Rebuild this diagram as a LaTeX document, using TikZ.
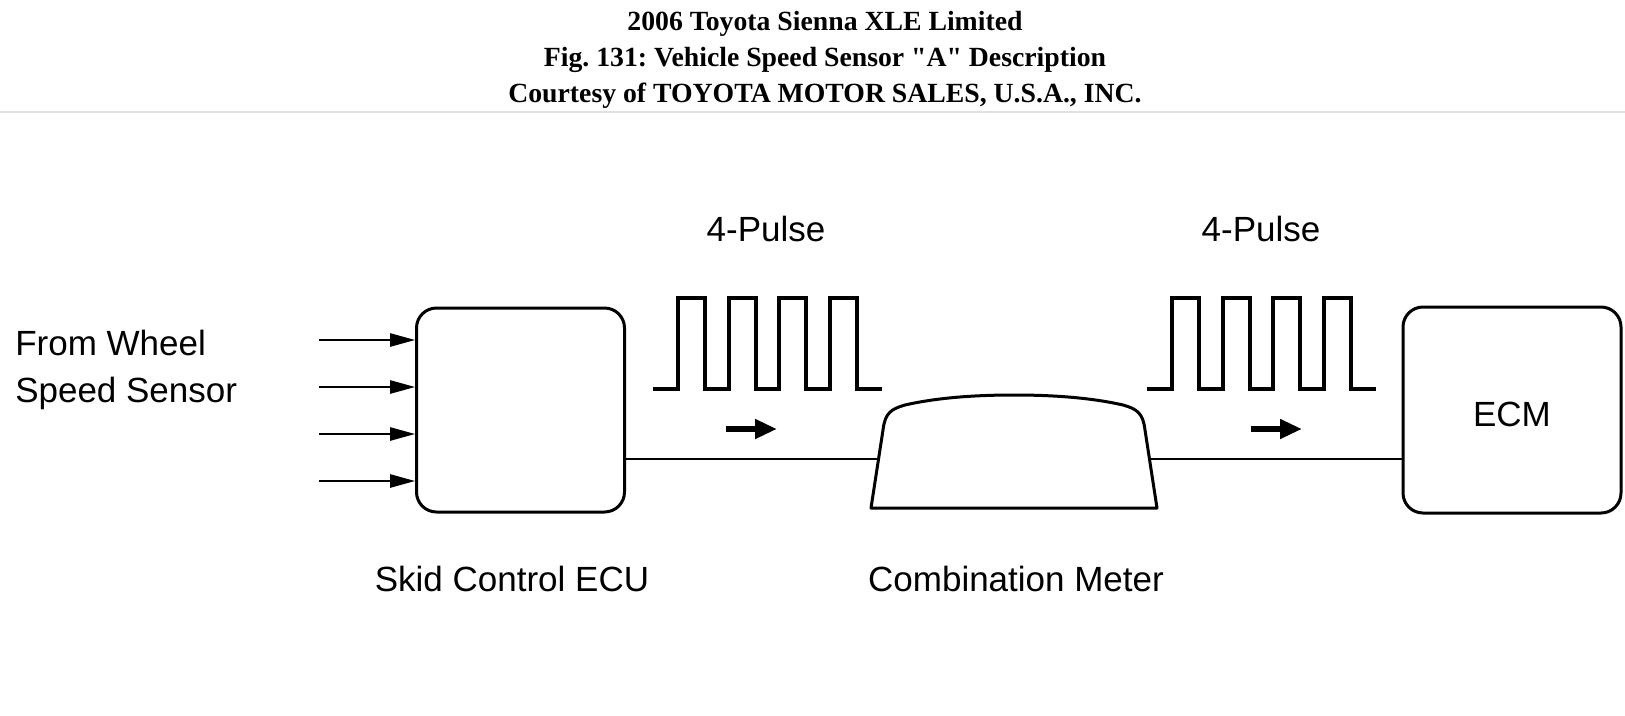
\documentclass[tikz,border=0pt]{standalone}
\usepackage{fontspec}
\setmainfont{Liberation Serif}
\newfontfamily\labelfont{Liberation Sans}
\usetikzlibrary{arrows.meta, positioning}
\frenchspacing
\newcommand\quotemark{\XeTeXglyph\XeTeXglyphindex "quotedbl"\relax}

\begin{document}
\begin{tikzpicture}[
  x=0.75pt, y=-0.75pt,
  heading/.style={font=\bfseries\fontsize{20.8}{27}\selectfont, align=center, inner sep=0pt},
  txt/.style={font=\labelfont\fontsize{26.25}{35}\selectfont, inner sep=0pt},
  unit/.style={rectangle, draw, rounded corners=15pt, line width=2.25pt, minimum width=156pt, minimum height=153pt},
  body/.style={line width=2.25pt, line join=round},
  wire/.style={line width=1.3pt},
  feed/.style={line width=1.3pt, -{Triangle[length=18.75pt, width=10pt]}},
  pulse/.style={line width=3pt},
  flow/.style={line width=4.5pt, -{Triangle[length=16.5pt, width=14pt]}},
  rule/.style={line width=1.2pt, black!12}
]

\path[use as bounding box, fill=white] (0,0) rectangle (1625,715);

\node[heading] (title) at (825,60) {2006 Toyota Sienna XLE Limited\\Fig. 131: Vehicle Speed Sensor \quotemark A\quotemark{} Description\\Courtesy of TOYOTA MOTOR SALES, U.S.A., INC.};
\draw[rule] (0,112) -- (1625,112);

\node[unit] (skid) at (520.5,410) {};
\node[unit, minimum width=163.5pt, minimum height=154.5pt, txt] (ecm) at (1512,410) {\raisebox{-3pt}[\height][\depth]{ECM}};

\draw[body] (871,508) -- (883,430) .. controls (885,413) and (891,409) .. (905,405)
  .. controls (940,397) and (980,395) .. (1014,395)
  .. controls (1048,395) and (1088,397) .. (1123,405)
  .. controls (1137,409) and (1143,413) .. (1145,430) -- (1157,508) -- cycle;
\coordinate (meter-w) at (878.5,459);
\coordinate (meter-e) at (1149.5,459);

\node[txt, anchor=west, align=left] (wheel) at (15,370) {From Wheel\\Speed Sensor};
\node[txt] (skidlabel) at (512,579) {Skid Control ECU};
\node[txt] (meterlabel) at (1016,579) {Combination Meter};
\node[txt] (pulse1) at (766,229) {4-Pulse};
\node[txt] (pulse2) at (1261,229) {4-Pulse};

\foreach \y [count=\i] in {340,387,434,481} {
  \coordinate (in\i) at (319,\y);
  \draw[feed] (in\i) -- (in\i -| skid.west);
}

\draw[wire] (skid.east |- meter-w) -- (meter-w);
\draw[wire] (meter-e) -- (meter-e -| ecm.west);

\foreach \s in {0,494} {
  \draw[pulse] (653+\s,389) foreach \x in {678,729,779,830} { -- (\x+\s,389) -- (\x+\s,298) -- (\x+\s+27,298) -- (\x+\s+27,389) } -- (882+\s,389);
}
\draw[flow] (726,429) -- (777,429);
\draw[flow] (1251,429) -- (1302,429);

\end{tikzpicture}
\end{document}
